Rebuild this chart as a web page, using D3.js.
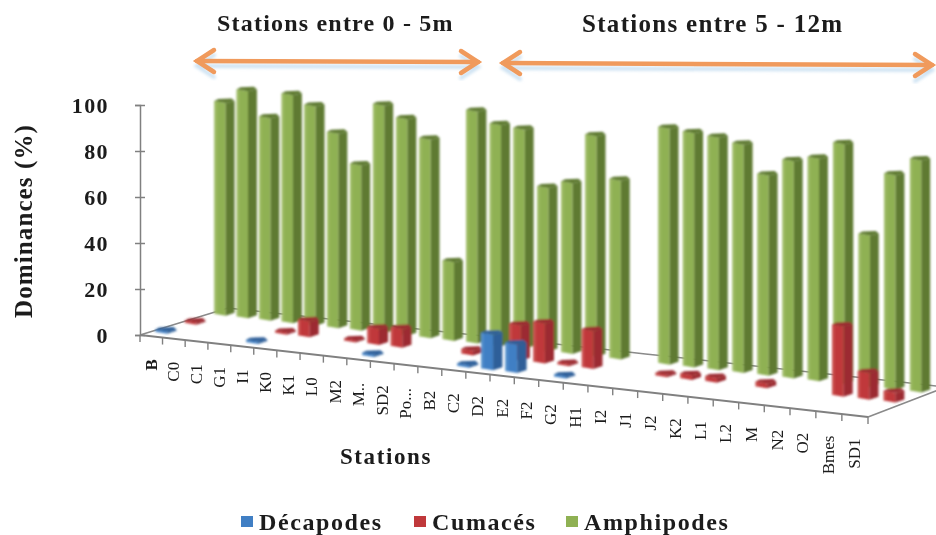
<!DOCTYPE html>
<html><head><meta charset="utf-8">
<script src="https://cdn.jsdelivr.net/npm/d3@7"></script>
<style>html,body{margin:0;padding:0;background:#fff}svg{display:block}text{font-family:"Liberation Serif",serif;fill:#1a1a1a}</style>
</head><body><div id="c"></div>
<script>
const categories=["B","C0","C1","G1","I1","K0","K1","L0","M2","M..","SD2","Po...","B2","C2","D2","E2","F2","G2","H1","I2","J1","J2","K2","L1","L2","M","N2","O2","Bmes","SD1"];
const decapodes=[1,0,0,0,1,0,0,0,0,1,0,0,0,1,15,12,0,1,0,0,0,0,0,0,0,0,0,0,0,0];
const cumaces=[1,0,0,0,1,7,0,1,7,8,0,0,2,0,15,17,1,16,0,0,1,2,2,0,2,0,0,29,11,4];
const amphipodes=[94,100,89,100,96,85,72,99,94,86,34,100,95,94,70,73,94,76,0,100,99,98,96,84,91,93,100,63,89,96];
const seriesNames=["Décapodes","Cumacés","Amphipodes"];
const yTicks=[0,20,40,60,80,100];
const colors={Décapodes:["#3f7fc4","#2d5f99","#5b94cf"],Cumacés:["#c0383a","#9c2c30","#cf5a58"],Amphipodes:["#8fb152","#5f7a33","#a3bf6c"]};
const W=936,H=535;
const svg=d3.select("#c").append("svg").attr("width",W).attr("height",H);
const defs=svg.append("defs");
defs.append("filter").attr("id","soft").append("feGaussianBlur").attr("stdDeviation",0.8);
defs.append("filter").attr("id","softT").append("feGaussianBlur").attr("stdDeviation",0.45);
defs.append("filter").attr("id","softB").append("feGaussianBlur").attr("stdDeviation",1.8);

const n=categories.length,k=1.08;
const tScale=d3.scaleLinear().domain([0,n]).range([0,1]);
const persp=t=>t/(t+(1-t)*k);
const frontX=d3.scaleLinear().domain([0,1]).range([140,868]);
const frontY=d3.scaleLinear().domain([0,1]).range([335,417]);
const depthX=d3.scaleLinear().domain([0,1]).range([88,78]);
const depthY=d3.scaleLinear().domain([0,1]).range([-27,-30]);
const unit=d3.scaleLinear().domain([0,1]).range([2.3,2.46]);
function proj(i,z,v){
  const p=persp(tScale(i));
  return [frontX(p)+depthX(p)*z, frontY(p)+depthY(p)*z-(v||0)*unit(p)*(1-0.02*z)];
}
const rows=[{name:"Amphipodes",vals:amphipodes,z:5/6},{name:"Cumacés",vals:cumaces,z:.5},{name:"Décapodes",vals:decapodes,z:1/6}];

// floor
const floor=svg.append("g").attr("fill","none").attr("stroke","#8a8a8a");
const line=d3.line();
floor.append("path").attr("stroke-width",1.5).attr("d",line([proj(0,0),proj(0,1)]));
floor.append("path").attr("stroke-width",1.5).attr("d",line(d3.range(0,n+1).map(i=>proj(i,1))));
floor.append("path").attr("stroke-width",1.5).attr("d",line([proj(n,0),proj(n,1)]));

// bars
const gBars=svg.append("g").attr("filter","url(#soft)");
rows.forEach(r=>{
  const c=colors[r.name];
  const data=r.vals.map((v,i)=>({v,i})).filter(d=>d.v>0);
  const g=gBars.append("g").selectAll("g").data(data).join("g");
  const geo=d=>{const [x,yb]=proj(d.i+.5,r.z,0),[,yt]=proj(d.i+.5,r.z,d.v);const w=20*(1+.07*(1-r.z));return {l:x-w/2,m:x+w*.06,r:x+w/2,yb,yt};};
  g.append("path").attr("fill",c[0]).attr("d",d=>{const a=geo(d);return line([[a.l,a.yt],[a.m,a.yt+2],[a.m,a.yb+2],[a.l,a.yb]])+"Z";});
  g.append("path").attr("fill",c[1]).attr("d",d=>{const a=geo(d);return line([[a.m,a.yt+2],[a.r,a.yt],[a.r,a.yb-1],[a.m,a.yb+2]])+"Z";});
  g.append("path").attr("fill",c[2]).attr("opacity",.75).attr("d",d=>{const a=geo(d);return line([[a.l,a.yt],[a.l+2.5,a.yt],[a.l+2.5,a.yb+.5],[a.l,a.yb]])+"Z";});
  g.append("path").attr("fill",c[1]).attr("d",d=>{const a=geo(d);return line([[a.l,a.yt],[a.l+4,a.yt-2],[a.r-3,a.yt-2.5],[a.r,a.yt],[a.m,a.yt+2]])+"Z";});
});

// front axis
const ax=svg.append("g").attr("stroke","#808080").attr("fill","none");
ax.append("path").attr("stroke-width",2).attr("d",line([proj(0,0),proj(n,0)]));
ax.selectAll("path.t").data(d3.range(0,n+1)).join("path").attr("class","t").attr("stroke-width",1.4)
  .attr("d",i=>{const [x,y]=proj(i,0);return line([[x,y],[x,y+7]]);});
const txt=svg.append("g").attr("filter","url(#softT)");
txt.selectAll("text.cat").data(categories).join("text").attr("class","cat")
  .attr("text-anchor","end").attr("font-size",17).attr("font-weight",d=>d==="B"?"bold":"normal")
  .attr("transform",(d,i)=>{const [x,y]=proj(i+.5,0);return `translate(${x+5.5},${y+23}) rotate(-90)`;})
  .text(d=>d);

// y axis
const y=d3.scaleLinear().domain([0,100]).range([335,105]);
const yAxis=svg.append("g").attr("transform","translate(140,0)")
  .call(d3.axisLeft(y).tickValues(yTicks).tickSize(5).tickPadding(26));
yAxis.selectAll("path,line").attr("stroke","#808080").attr("stroke-width",1.5);
yAxis.selectAll("line").attr("x2",-5).attr("x1",5);
yAxis.selectAll("text").attr("font-family","Liberation Serif").attr("font-size",22).attr("font-weight","bold").attr("fill","#1a1a1a").attr("filter","url(#softT)")
  .attr("letter-spacing",1.4);

txt.append("text").attr("transform","translate(32,221) rotate(-90)").attr("text-anchor","middle")
  .attr("font-size",25).attr("font-weight","bold").attr("letter-spacing",1.1).text("Dominances (%)");
txt.append("text").attr("x",386).attr("y",464).attr("text-anchor","middle").attr("font-size",23).attr("font-weight","bold").attr("letter-spacing",1.6).text("Stations");
txt.append("text").attr("x",217).attr("y",31).attr("font-size",24).attr("font-weight","bold").attr("letter-spacing",1.2).text("Stations entre 0 - 5m");
txt.append("text").attr("x",582).attr("y",32).attr("font-size",25).attr("font-weight","bold").attr("letter-spacing",1.3).text("Stations entre 5 - 12m");

// legend
const legendX=[241,414,566],legendColor=["#3f7fc4","#c0383a","#8fb152"];
const leg=svg.append("g");
seriesNames.forEach((s,i)=>{
  leg.append("rect").attr("x",legendX[i]).attr("y",516).attr("width",12).attr("height",11).attr("fill",legendColor[i]).attr("filter","url(#softT)");
  txt.append("text").attr("x",legendX[i]+18).attr("y",530).attr("font-size",24).attr("font-weight","bold").attr("letter-spacing",1.6).text(s);
});

// arrows
function arrow(x0,y0,x1,y1){
  const g=svg.append("g").attr("fill","none").attr("stroke-linecap","round");
  const dir=[[x0,y0,1],[x1,y1,-1]];
  const paths=[[[x0,y0],[x1,y1]]];
  dir.forEach(([x,yy,s])=>paths.push([[x+s*17,yy-11],[x,yy],[x+s*17,yy+11]]));
  g.append("g").attr("filter","url(#softB)").attr("stroke","#cfe3f3").attr("stroke-width",4).selectAll("path").data(paths).join("path").attr("d",d=>line(d.map(p=>[p[0],p[1]+5])));
  g.append("g").attr("filter","url(#softT)").attr("stroke","#f09a5c").attr("stroke-width",4.5).selectAll("path").data(paths).join("path").attr("d",d=>line(d));
}
arrow(197,61,478,62);
arrow(503,63,932,65);
</script></body></html>
